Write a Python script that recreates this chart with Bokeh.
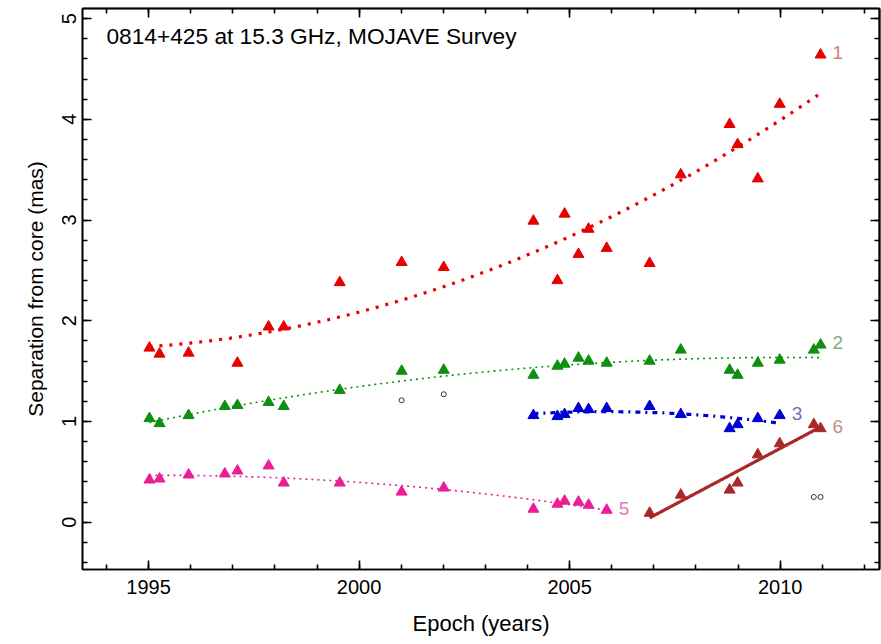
import numpy as np
from bokeh.plotting import figure
from bokeh.models import LinearAxis, SingleIntervalTicker, FixedTicker, Range1d, ColumnDataSource
from bokeh.core.properties import value
from bokeh.embed import file_html
from bokeh.resources import INLINE

FONT = "Liberation Sans"

title_text = "0814+425 at 15.3 GHz, MOJAVE Survey"
x_label = "Epoch (years)"
y_label = "Separation from core (mas)"

# Component 1 (red)
c1_epoch = [1995.02, 1995.26, 1995.95, 1997.11, 1997.85, 1998.21, 1999.54, 2001.01,
            2002.01, 2004.14, 2004.71, 2004.88, 2005.21, 2005.45, 2005.88, 2006.90,
            2007.64, 2008.80, 2008.99, 2009.47, 2009.99, 2010.96]
c1_sep = [1.73, 1.67, 1.68, 1.58, 1.94, 1.94, 2.38, 2.58,
          2.53, 2.99, 2.40, 3.06, 2.66, 2.91, 2.72, 2.57,
          3.45, 3.95, 3.75, 3.41, 4.15, 4.64]

# Component 2 (green)
c2_epoch = [1995.02, 1995.26, 1995.95, 1996.81, 1997.11, 1997.85, 1998.21, 1999.54,
            2001.01, 2002.01, 2004.14, 2004.71, 2004.88, 2005.21, 2005.45, 2005.88,
            2006.90, 2007.64, 2008.80, 2008.99, 2009.47, 2009.99, 2010.80, 2010.96]
c2_sep = [1.03, 0.98, 1.06, 1.15, 1.16, 1.19, 1.15, 1.31,
          1.50, 1.51, 1.46, 1.55, 1.57, 1.63, 1.60, 1.58,
          1.60, 1.71, 1.51, 1.46, 1.58, 1.61, 1.71, 1.76]

# Component 3 (blue)
c3_epoch = [2004.14, 2004.71, 2004.88, 2005.21, 2005.45, 2005.88, 2006.90, 2007.64,
            2008.80, 2008.99, 2009.47, 2009.99]
c3_sep = [1.06, 1.05, 1.07, 1.13, 1.12, 1.13, 1.15, 1.07,
          0.93, 0.97, 1.03, 1.06]

# Component 5 (magenta)
c5_epoch = [1995.02, 1995.26, 1995.95, 1996.81, 1997.11, 1997.85, 1998.21, 1999.54,
            2001.01, 2002.01, 2004.14, 2004.71, 2004.88, 2005.21, 2005.45, 2005.88]
c5_sep = [0.42, 0.43, 0.47, 0.48, 0.51, 0.56, 0.39, 0.39,
          0.30, 0.34, 0.13, 0.18, 0.21, 0.20, 0.17, 0.12]

# Component 6 (brown)
c6_epoch = [2006.90, 2007.64, 2008.80, 2008.99, 2009.47, 2009.99, 2010.80, 2010.96]
c6_sep = [0.09, 0.27, 0.32, 0.39, 0.67, 0.78, 0.97, 0.93]

# Unassigned features (open circles)
other_epoch = [2001.01, 2002.01, 2010.80, 2010.96]
other_sep = [1.21, 1.27, 0.25, 0.25]

components = [
    # name, epochs, separations, fit order, marker colour, fit style, label colour
    ("1", c1_epoch, c1_sep, 2, "#e60000", dict(line_width=3.2, line_dash="3 7"), "#e07a7a"),
    ("2", c2_epoch, c2_sep, 2, "#0f8f0f", dict(line_width=1.6, line_dash="2 4"), "#88a488"),
    ("3", c3_epoch, c3_sep, 2, "#0000d2", dict(line_width=3.2, line_dash="5 5 2 5"), "#6a72b8"),
    ("5", c5_epoch, c5_sep, 2, "#ea1f98", dict(line_width=1.6, line_dash="2 4"), "#e27ab8"),
    ("6", c6_epoch, c6_sep, 1, "#a82828", dict(line_width=3.2), "#c88a8a"),
]

X0, X1 = 1993.43, 2012.36
Y0, Y1 = -0.47, 5.1

p = figure(width=881, height=644, output_backend="svg", toolbar_location=None,
           x_range=Range1d(X0, X1), y_range=Range1d(Y0, Y1),
           min_border_left=82, min_border_right=2, min_border_top=8, min_border_bottom=75)
p.background_fill_color = "white"
p.border_fill_color = "white"
p.outline_line_color = "black"
p.outline_line_width = 1.6
p.xgrid.visible = False
p.ygrid.visible = False


def style_ticks(ax, major_len=9, minor_len=5):
    # ticks point into the frame
    ax.axis_line_color = "black"
    ax.axis_line_width = 1.6
    ax.major_tick_in = major_len
    ax.major_tick_out = 0
    ax.minor_tick_in = minor_len
    ax.minor_tick_out = 0
    ax.major_tick_line_color = "black"
    ax.minor_tick_line_color = "black"
    ax.major_tick_line_width = 1.6
    ax.minor_tick_line_width = 1.6


p.xaxis.ticker = SingleIntervalTicker(interval=5, num_minor_ticks=5)
p.yaxis.ticker = SingleIntervalTicker(interval=1, num_minor_ticks=5)
for ax in (p.xaxis[0], p.yaxis[0]):
    style_ticks(ax)
    ax.major_label_text_font = FONT
    ax.major_label_text_font_size = "20px"
    ax.major_label_text_color = "black"
    ax.axis_label_text_font = FONT
    ax.axis_label_text_font_style = "normal"
    ax.axis_label_text_color = "black"
p.xaxis.axis_label = x_label
p.xaxis.axis_label_text_font_size = "22px"
p.xaxis.major_label_standoff = 10
p.xaxis.axis_label_standoff = 14
p.yaxis.axis_label = y_label
p.yaxis.axis_label_text_font_size = "21px"
p.yaxis.major_label_orientation = "parallel"
p.yaxis.major_label_standoff = 6
p.yaxis.axis_label_standoff = 13

# Unlabelled tick rows along the top and right edges
year_major = list(np.arange(1995, 2011, 5))
year_minor = list(np.arange(1994, 2013, 1))
sep_major = list(np.arange(0, 6, 1))
sep_minor = list(np.round(np.arange(-0.4, 5.1, 0.2), 1))
for side, majors, minors in (("above", year_major, year_minor),
                             ("right", sep_major, sep_minor)):
    for ticks, length in ((majors, 9), (minors, 5)):
        ax = LinearAxis(ticker=FixedTicker(ticks=[], minor_ticks=ticks))
        style_ticks(ax, major_len=0, minor_len=length)
        ax.axis_label = None
        p.add_layout(ax, side)

# Fitted trajectories and measured positions
label_x, label_y, label_txt, label_col = [], [], [], []
for name, ep, sep, order, col, style, lcol in components:
    ep_a = np.asarray(ep)
    coeff = np.polyfit(ep_a - 2000.0, np.asarray(sep), order)
    tt = np.linspace(ep_a.min(), ep_a.max(), 200)
    p.line(tt, np.polyval(coeff, tt - 2000.0), line_color=col, **style)
    p.scatter(ep, sep, marker="triangle", size=11, fill_color=col, line_color=col)
    label_x.append(ep[-1])
    label_y.append(sep[-1])
    label_txt.append(name)
    label_col.append(lcol)

p.scatter(other_epoch, other_sep, marker="circle", size=5, fill_color=None,
          line_color="#333333", line_width=1)

lab_src = ColumnDataSource(dict(x=label_x, y=label_y, t=label_txt, c=label_col))
p.text(x="x", y="y", text="t", text_color="c", source=lab_src, x_offset=12, y_offset=-2,
       text_font=value(FONT), text_font_size="19px", text_align="left",
       text_baseline="middle")

# Title written inside the frame, top-left corner
p.text(x=[X0], y=[Y1], text=[title_text], x_offset=24, y_offset=27,
       text_font=value(FONT), text_font_size="22.7px", text_color="black",
       text_align="left", text_baseline="middle")

open("out.html", "w").write(file_html(p, INLINE))
